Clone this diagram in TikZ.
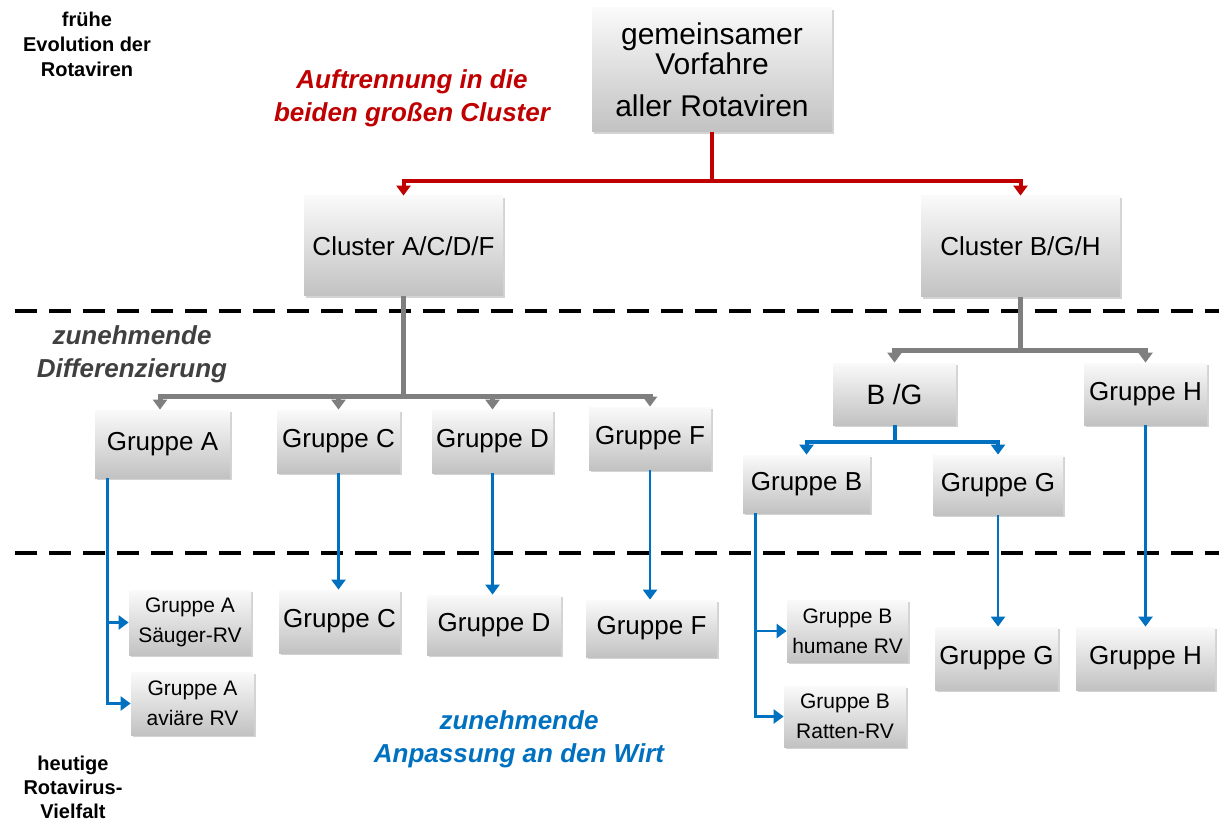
\documentclass[tikz,border=0pt]{standalone}
\usepackage{fontspec}
\setmainfont{Liberation Sans}
\usetikzlibrary{arrows.meta, shadows}

\definecolor{splitred}{HTML}{C00000}
\definecolor{diffgray}{HTML}{7F7F7F}
\definecolor{hostblue}{HTML}{0070C0}
\definecolor{notegray}{HTML}{404040}

\begin{document}
\begin{tikzpicture}[x=0.5pt, y=-0.5pt,
    box/.style={rectangle, top color=black!2, bottom color=black!24, draw=none,
        drop shadow={opacity=0.35, shadow xshift=1pt, shadow yshift=-1.2pt},
        align=center, inner sep=2pt, font=\fontsize{13}{15}\selectfont},
    smallbox/.style={box, font=\fontsize{10.5}{15}\selectfont},
    redline/.style={draw=splitred, line width=2pt},
    grayline/.style={draw=diffgray, line width=2.5pt},
    blueline/.style={draw=hostblue, line width=1.3pt},
    tip/.style={-{Triangle[width=7pt, length=5pt]}},
    level/.style={line width=2pt, dash pattern=on 11pt off 6pt},
    sidenote/.style={align=center, font=\bfseries\fontsize{10}{12.5}\selectfont},
    phase/.style={align=center, font=\bfseries\itshape\fontsize{13}{16.5}\selectfont}]
    \useasboundingbox (0,0) rectangle (1219,823);

    \draw [level] (15,311) -- (1219,311);
    \draw [level] (15,553) -- (1219,553);

    \node (anc) at (712,70) [box, minimum width=120pt, minimum height=62pt,
        font=\fontsize{15}{15}\selectfont] {gemeinsamer\\Vorfahre\\[6pt]aller Rotaviren};

    \node (cl_a) at (403.5,246) [box, minimum width=99.5pt, minimum height=50pt] {Cluster A/C/D/F};
    \node (cl_b) at (1020.5,246.5) [box, minimum width=99.5pt, minimum height=50.5pt] {Cluster B/G/H};

    \node (gr_a) at (162.5,444) [box, minimum width=67.5pt, minimum height=34pt] {Gruppe A};
    \node (gr_c) at (338.5,441.5) [box, minimum width=61.5pt, minimum height=31.5pt] {Gruppe C};
    \node (gr_d) at (492.5,441.5) [box, minimum width=60.5pt, minimum height=31.5pt] {Gruppe D};
    \node (gr_f) at (650,438.5) [box, minimum width=61pt, minimum height=31.5pt] {Gruppe F};
    \node (bg) at (894.5,394) [box, minimum width=61.5pt, minimum height=31pt,
        font=\fontsize{14}{15}\selectfont] {B /G};
    \node (gr_h) at (1145.5,394) [box, minimum width=61.5pt, minimum height=31pt] {Gruppe H};
    \node (gr_b) at (806.5,484) [box, minimum width=63.5pt, minimum height=29pt] {Gruppe B};
    \node (gr_g) at (998,485) [box, minimum width=65pt, minimum height=30pt] {Gruppe G};

    \node (a_s) at (190,622.5) [smallbox, minimum width=61pt, minimum height=32.5pt] {Gruppe A\\Säuger-RV};
    \node (a_v) at (192.5,703.5) [smallbox, minimum width=61.5pt, minimum height=31.5pt] {Gruppe A\\aviäre RV};
    \node (now_c) at (339.5,621.5) [box, minimum width=60.5pt, minimum height=31.5pt] {Gruppe C};
    \node (now_d) at (494,625) [box, minimum width=67pt, minimum height=30pt] {Gruppe D};
    \node (now_f) at (651.5,628.5) [box, minimum width=65.5pt, minimum height=28.5pt] {Gruppe F};
    \node (b_h) at (847.5,631) [smallbox, minimum width=60.5pt, minimum height=31pt] {Gruppe B\\humane RV};
    \node (b_r) at (845,716.5) [smallbox, minimum width=61pt, minimum height=30.5pt] {Gruppe B\\Ratten-RV};
    \node (now_g) at (996.5,658.5) [box, minimum width=60.5pt, minimum height=31.5pt] {Gruppe G};
    \node (now_h) at (1145.5,658.5) [box, minimum width=69.5pt, minimum height=31.5pt] {Gruppe H};

    \coordinate (red_bar) at (712,181);
    \draw [redline] (anc.south) -- (red_bar);
    \draw [redline, tip] (red_bar) -| (cl_a);
    \draw [redline, tip] (red_bar) -| (cl_b);

    \coordinate (gray_a) at (403.5,396);
    \draw [grayline] (cl_a.south) -- (gray_a);
    \draw [grayline, tip] (gray_a) -| ([xshift=-1.25pt]gr_a.north);
    \draw [grayline, tip] (gray_a) -| (gr_c);
    \draw [grayline, tip] (gray_a) -| (gr_d);
    \draw [grayline, tip] (gray_a) -| (gr_f);

    \coordinate (gray_b) at (1020.5,350);
    \draw [grayline] (cl_b.south) -- (gray_b);
    \draw [grayline, tip] (gray_b) -| (bg);
    \draw [grayline, tip] (gray_b) -| (gr_h);

    \coordinate (blue_bg) at (894.5,442);
    \draw [blueline, line width=2pt] (bg.south) -- (blue_bg);
    \draw [blueline, line width=2pt, tip] (blue_bg) -| (gr_b);
    \draw [blueline, line width=2pt, tip] (blue_bg) -| (gr_g);

    \draw [blueline, tip] ([xshift=6.5pt]gr_a.south west) |- (a_s.west);
    \draw [blueline, tip] ([xshift=6.5pt]gr_a.south west) |- (a_v.west);
    \draw [blueline, tip] (gr_c.south) -- (gr_c.south |- now_c.north);
    \draw [blueline, tip] (gr_d.south) -- (gr_d.south |- now_d.north);
    \draw [blueline, tip] (gr_f.south) -- (gr_f.south |- now_f.north);
    \draw [blueline, tip] ([xshift=6.5pt]gr_b.south west) |- (b_h.west);
    \draw [blueline, tip] ([xshift=6.5pt]gr_b.south west) |- (b_r.west);
    \draw [blueline, tip] (gr_g.south) -- (gr_g.south |- now_g.north);
    \draw [blueline, tip] (gr_h.south) -- (gr_h.south |- now_h.north);

    \node (early) at (87,44) [sidenote] {frühe\\Evolution der\\Rotaviren};
    \node (today) at (73,787) [sidenote, font=\bfseries\fontsize{10}{12}\selectfont] {heutige\\Rotavirus-\\Vielfalt};
    \node (split) at (412,98.5) [phase, text=splitred] {Auftrennung in die\\beiden großen Cluster};
    \node (diff) at (132,354) [phase, text=notegray] {zunehmende\\Differenzierung};
    \node (adapt) at (519,739.5) [phase, text=hostblue] {zunehmende\\Anpassung an den Wirt};
\end{tikzpicture}
\end{document}
